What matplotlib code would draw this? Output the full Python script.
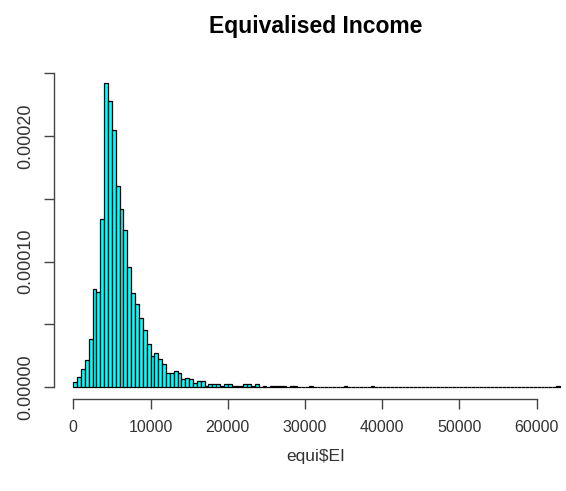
import numpy as np
import matplotlib
matplotlib.use("Agg")
from matplotlib import pyplot as plt

# histogram of equi$EI, bins of 500 from 0 to 63000, density in units of 1e-5
bin_width = 500
n_bins = 126
head_density = [0.45, 0.82, 1.44, 2.18, 3.83, 7.81, 7.55, 13.4, 24.2, 22.8,
                20.5, 16.0, 14.2, 12.5, 9.55, 7.50, 6.62, 5.48, 4.57, 3.43,
                2.47, 2.71, 2.26, 1.86, 1.12, 1.12, 1.33, 1.12, 0.66, 0.74,
                0.66, 0.34, 0.48, 0.48, 0.08, 0.22, 0.22, 0.22, 0.08, 0.26,
                0.26, 0.08, 0.08, 0.08, 0.26, 0.26, 0.08, 0.26, 0.0, 0.08,
                0.0, 0.08, 0.08, 0.08, 0.08, 0.0, 0.08, 0.08, 0.0, 0.0,
                0.0, 0.08]
# sparse far tail: bin index -> density (1e-5)
tail_bins = [70, 77, 125]
tail_density = [0.08, 0.08, 0.08]

xticks = [0, 10000, 20000, 30000, 40000, 50000, 60000]
yticks = [0.0, 0.00005, 0.00010, 0.00015, 0.00020, 0.00025]
ylabels = ["0.00000", "", "0.00010", "", "0.00020", ""]

density = np.zeros(n_bins)
density[:len(head_density)] = head_density
for b, d in zip(tail_bins, tail_density):
    density[b] = d
density = density * 1e-5
lefts = np.arange(n_bins) * bin_width

plt.rcParams['font.family'] = ['Liberation Sans', 'DejaVu Sans']

fig = plt.figure(figsize=(5.66, 4.91), dpi=100)
ax = fig.add_axes([0.0951, 0.1866, 0.9284, 0.6682])

ax.bar(lefts, density, width=bin_width, align='edge', color='#00FFFF',
       edgecolor='black', linewidth=0.9)

dmax = density.max()
ax.set_xlim(-0.04 * 63000, 63000 * 1.04)
ax.set_ylim(-0.04 * dmax, dmax * 1.04)

for s in ['top', 'right']:
    ax.spines[s].set_visible(False)
ax.spines['left'].set_bounds(0, 0.00025)
ax.spines['bottom'].set_bounds(0, 60000)
for s in ['left', 'bottom']:
    ax.spines[s].set_color('#444444')
    ax.spines[s].set_linewidth(1.0)

ax.set_xticks(xticks)
ax.set_xticklabels([str(v) for v in xticks])
ax.set_yticks(yticks)
ax.set_yticklabels(ylabels, rotation=90, va='center')
ax.tick_params(axis='both', length=7, width=1.0, color='#444444',
               labelsize=11.5, labelcolor='#333333')
ax.tick_params(axis='y', labelsize=13, pad=7)
ax.tick_params(axis='x', pad=8)

fig.text(316 / 566, 1 - 27 / 491, "Equivalised Income", ha='center',
         va='center', fontsize=16.5, fontweight='bold')
fig.text(316 / 566, 1 - 456 / 491, "equi$EI", ha='center', va='center',
         fontsize=12.5, color='#333333')

fig.savefig("out.png", dpi=100)
